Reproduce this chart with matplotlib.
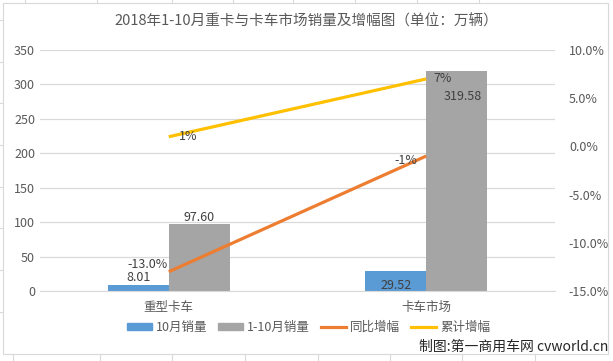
import matplotlib.pyplot as plt
import numpy as np
from matplotlib.lines import Line2D
from matplotlib.patches import Patch, Rectangle

plt.rcParams['font.family'] = ['Noto Sans CJK SC', 'DejaVu Sans']

categories = ["重型卡车", "卡车市场"]
oct_sales = [8.01, 29.52]
ytd_sales = [97.60, 319.58]
yoy_growth = [-13.0, -1.0]
cum_growth = [1.0, 7.0]

left_ticks = [0, 50, 100, 150, 200, 250, 300, 350]
right_ticks = [-15, -10, -5, 0, 5, 10]

C_BLUE = "#5B9BD5"
C_GRAY = "#A5A5A5"
C_ORANGE = "#ED7D31"
C_YELLOW = "#FFC000"
TXT = "#595959"
GRID = "#D9D9D9"

fig = plt.figure(figsize=(6.13, 3.61), dpi=100)

# spreadsheet cell lines behind the chart
for x in [25, 97, 172, 233, 293, 355, 417, 479]:
    fig.add_artist(Line2D([x / 613, x / 613], [1, 1 - 3 / 361], color=GRID, lw=0.8))
for x in [13, 100, 172, 245, 318, 390, 462, 535]:
    fig.add_artist(Line2D([x / 613, x / 613], [0, 6 / 361], color=GRID, lw=0.8))
for y in [20, 62, 103, 145, 187, 228, 270, 312]:
    fig.add_artist(Line2D([0, 3 / 613], [1 - y / 361, 1 - y / 361], color=GRID, lw=0.8))
fig.add_artist(Rectangle((3 / 613, 7 / 361), 605 / 613, 351 / 361, fill=False,
                         edgecolor=GRID, lw=0.8))

ax = fig.add_axes([40 / 613, 1 - 291 / 361, 515 / 613, 241 / 361])
ax2 = ax.twinx()

x = np.arange(len(categories))
w = 0.237
ax.bar(x - w / 2, oct_sales, w, color=C_BLUE, zorder=2)
ax.bar(x + w / 2, ytd_sales, w, color=C_GRAY, zorder=2)

ax.set_xlim(-0.5, 1.5)
ax.set_ylim(0, 350)
ax.set_yticks(left_ticks)
ax.grid(axis="y", color=GRID, lw=0.9, zorder=0)
ax.set_axisbelow(True)
for s in ax.spines.values():
    s.set_visible(False)
for s in ax2.spines.values():
    s.set_visible(False)
ax.spines["bottom"].set_visible(True)
ax.spines["bottom"].set_color(GRID)
ax.tick_params(axis="both", length=0, colors=TXT, labelsize=9)
ax.set_xticks(x)
ax.set_xticklabels(categories)
ax.tick_params(axis="x", pad=7)

ax2.plot(x, yoy_growth, color=C_ORANGE, lw=2.3, solid_capstyle="butt")
ax2.plot(x, cum_growth, color=C_YELLOW, lw=2.3, solid_capstyle="butt")
ax2.set_ylim(-15, 10)
ax2.set_yticks(right_ticks)
ax2.set_yticklabels([f"{v:.1f}%" for v in right_ticks])
ax2.tick_params(axis="y", length=0, colors=TXT, labelsize=9, pad=10)

# data labels
lab = dict(color="#404040", fontsize=9)
ax.annotate(f"{oct_sales[0]:.2f}", (x[0] - w / 2, oct_sales[0]), xytext=(0, 1),
            textcoords="offset points", ha="center", va="bottom", **lab)
ax.annotate(f"{oct_sales[1]:.2f}", (x[1] - w / 2, oct_sales[1]), xytext=(0, -6),
            textcoords="offset points", ha="center", va="top", **lab)
ax.annotate(f"{ytd_sales[0]:.2f}", (x[0] + w / 2, ytd_sales[0]), xytext=(0, 0),
            textcoords="offset points", ha="center", va="bottom", **lab)
ax.annotate(f"{ytd_sales[1]:.2f}", (x[1] + w / 2, ytd_sales[1]), xytext=(4, -14),
            textcoords="offset points", ha="center", va="top", **lab)
ax2.annotate(f"{yoy_growth[0]:.1f}%", (x[0], yoy_growth[0]), xytext=(-15, 5),
             textcoords="offset points", ha="center", va="center", **lab)
ax2.annotate(f"{yoy_growth[1]:.0f}%", (x[1], yoy_growth[1]), xytext=(-15, -3),
             textcoords="offset points", ha="center", va="center", **lab)
ax2.annotate(f"{cum_growth[0]:.0f}%", (x[0], cum_growth[0]), xytext=(14, 0),
             textcoords="offset points", ha="center", va="center", **lab)
ax2.annotate(f"{cum_growth[1]:.0f}%", (x[1], cum_growth[1]), xytext=(12, 0),
             textcoords="offset points", ha="center", va="center", **lab)

fig.text(0.5, 1 - 21 / 361, "2018年1-10月重卡与卡车市场销量及增幅图（单位：万辆）",
         ha="center", va="center", fontsize=10.5, color=TXT)

handles = [Patch(color=C_BLUE), Patch(color=C_GRAY),
           Line2D([], [], color=C_ORANGE, lw=2.3), Line2D([], [], color=C_YELLOW, lw=2.3)]
labels = ["10月销量", "1-10月销量", "同比增幅", "累计增幅"]
fig.legend(handles, labels, loc="center", bbox_to_anchor=(0.503, 1 - 327 / 361), ncol=4,
           frameon=False, fontsize=9, labelcolor=TXT, handlelength=2.0, handleheight=0.5,
           columnspacing=0.9, handletextpad=0.3)

fig.text(608 / 613, 1 - 347 / 361, "制图:第一商用车网 cvworld.cn", ha="right", va="center",
         fontsize=10, color="#262626")

fig.savefig("out.png", dpi=100)
